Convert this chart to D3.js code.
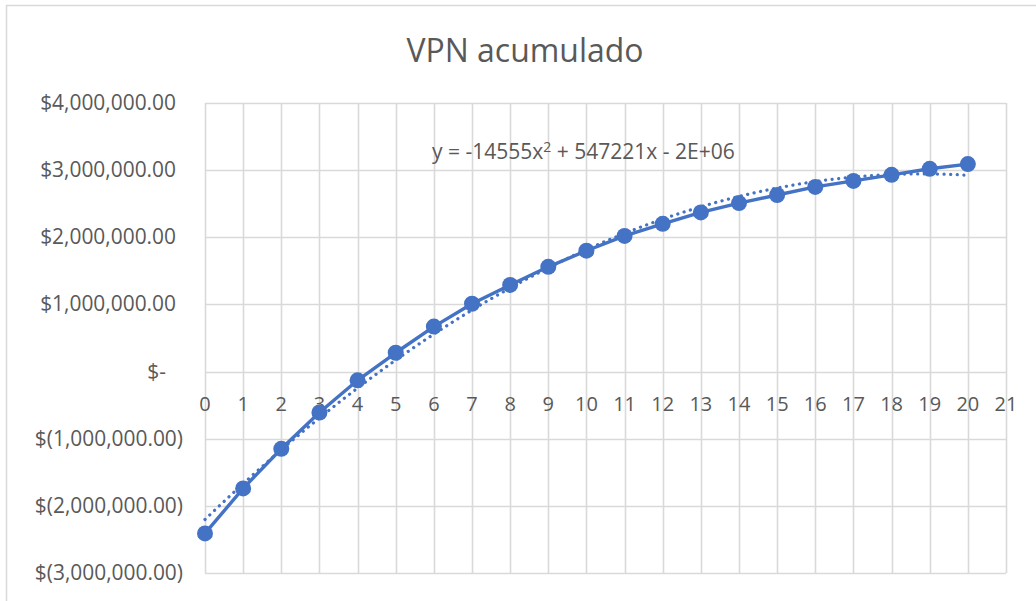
<!DOCTYPE html>
<html>
<head>
<meta charset="utf-8">
<script src="https://cdn.jsdelivr.net/npm/d3@7"></script>
<style>
  body { margin: 0; background: #fff; }
  text { font-family: "Open Sans", sans-serif; fill: #595959; }
</style>
</head>
<body>
<div id="canvas"></div>
<script>
// data
var years = [0, 1, 2, 3, 4, 5, 6, 7, 8, 9, 10, 11, 12, 13, 14, 15, 16, 17, 18, 19, 20]
var vpn = [-2410000, -1740000, -1150000, -610000, -130000, 280000, 670000, 1010000,
    1290000, 1560000, 1800000, 2020000, 2200000, 2370000, 2510000, 2630000,
    2750000, 2840000, 2930000, 3020000, 3090000]
var xTicks = d3.range(0, 22)
var yTicks = [4000000, 3000000, 2000000, 1000000, 0, -1000000, -2000000, -3000000]
var chartTitle = 'VPN acumulado'
var eqText = ['y = -14555x', '2', ' + 547221x - 2E+06']

var blue = '#4472C4'
var grid = '#d9d9d9'

function fmtMoney(v) {
    if (v == 0) return '$-'
    let s = d3.format(',.2f')(Math.abs(v))
    return v < 0 ? '$(' + s + ')' : '$' + s
}

// quadratic least squares, as the spreadsheet trendline does
function quadFit(xs, ys) {
    let n = xs.length, s = [0, 0, 0, 0, 0], t = [0, 0, 0]
    for (let i = 0; i < n; i++) {
        let x = xs[i]
        for (let k = 0; k < 5; k++) s[k] += Math.pow(x, k)
        for (let k = 0; k < 3; k++) t[k] += ys[i] * Math.pow(x, k)
    }
    let m = [[s[0], s[1], s[2], t[0]], [s[1], s[2], s[3], t[1]], [s[2], s[3], s[4], t[2]]]
    for (let i = 0; i < 3; i++) {
        for (let j = i + 1; j < 3; j++) {
            let f = m[j][i] / m[i][i]
            for (let k = i; k < 4; k++) m[j][k] -= f * m[i][k]
        }
    }
    let c = [0, 0, 0]
    for (let i = 2; i >= 0; i--) {
        let v = m[i][3]
        for (let k = i + 1; k < 3; k++) v -= m[i][k] * c[k]
        c[i] = v / m[i][i]
    }
    return c
}

var W = 1036, H = 601
var plot = { left: 205, right: 1006, top: 103, bottom: 573 }

var svg = d3.select('#canvas').append('svg')
    .attr('width', W)
    .attr('height', H)

svg.append('rect')
    .attr('x', 6.5)
    .attr('y', 5.5)
    .attr('width', W)
    .attr('height', H)
    .attr('fill', '#fff')
    .attr('stroke', grid)
    .attr('stroke-width', 1.5)

var x = d3.scaleLinear().domain([0, 21]).range([plot.left, plot.right])
var y = d3.scaleLinear().domain([-3000000, 4000000]).range([plot.bottom, plot.top])

// gridlines
svg.append('g').selectAll('line.h')
    .data(yTicks)
    .join('line')
    .attr('x1', plot.left).attr('x2', plot.right)
    .attr('y1', d => Math.round(y(d)) + 0.5).attr('y2', d => Math.round(y(d)) + 0.5)
    .attr('stroke', grid).attr('stroke-width', 1.6)
svg.append('g').selectAll('line.v')
    .data(xTicks)
    .join('line')
    .attr('x1', d => Math.round(x(d)) + 0.5).attr('x2', d => Math.round(x(d)) + 0.5)
    .attr('y1', plot.top).attr('y2', plot.bottom)
    .attr('stroke', grid).attr('stroke-width', 1.6)

// y labels (accounting style: parens hang to the right)
var yLab = svg.append('g').selectAll('text')
    .data(yTicks)
    .join('text')
    .attr('x', d => d < 0 ? 183 : (d == 0 ? 166 : 176))
    .attr('y', d => y(d) + 7)
    .attr('text-anchor', 'end')
    .style('font-size', '20px')
    .text(fmtMoney)
// fit "$4,000,000.00" to the width seen (~138px)
var yw = yLab.node().getComputedTextLength()
yLab.style('font-size', (20 * 136 / yw) + 'px')

// x labels sit along the zero line
svg.append('g').selectAll('text')
    .data(xTicks)
    .join('text')
    .attr('x', d => x(d))
    .attr('y', y(0) + 39)
    .attr('text-anchor', 'middle')
    .style('font-size', '20px')
    .text(d => d)

// trendline
var coef = quadFit(years, vpn)
var trendX = d3.range(0, 20.01, 0.1)
var line = d3.line().x(d => x(d[0])).y(d => y(d[1])).curve(d3.curveLinear)
svg.append('path')
    .attr('d', line(trendX.map(t => [t, coef[0] + coef[1] * t + coef[2] * t * t])))
    .attr('fill', 'none')
    .attr('stroke', blue)
    .attr('stroke-width', 3.2)
    .attr('stroke-linecap', 'round')
    .attr('stroke-dasharray', '0.1 6.5')

// series
svg.append('path')
    .attr('d', line(years.map((t, i) => [t, vpn[i]])))
    .attr('fill', 'none')
    .attr('stroke', blue)
    .attr('stroke-width', 3.4)
    .attr('stroke-linejoin', 'round')

svg.append('g').selectAll('circle')
    .data(years)
    .join('circle')
    .attr('cx', d => x(d))
    .attr('cy', (d, i) => y(vpn[i]))
    .attr('r', 8)
    .attr('fill', blue)

// title
var title = svg.append('text')
    .attr('x', 525)
    .attr('y', 62)
    .attr('text-anchor', 'middle')
    .style('font-size', '30px')
    .text(chartTitle)
// Calibri is narrower, so squeeze to the width seen
var tw = title.node().getComputedTextLength()
title.style('font-size', (30 * 237 / tw) + 'px')

// trendline equation
var eq = svg.append('text')
    .attr('x', 432)
    .attr('y', 159)
    .style('font-size', '18px')
eq.append('tspan').text(eqText[0])
eq.append('tspan').attr('dy', -7).style('font-size', '12px').text(eqText[1])
eq.append('tspan').attr('dy', 7).text(eqText[2])
var ew = eq.node().getComputedTextLength()
eq.style('font-size', (18 * 303 / ew) + 'px')
eq.select('tspan:nth-child(2)').style('font-size', (12 * 303 / ew) + 'px')
</script>
</body>
</html>
